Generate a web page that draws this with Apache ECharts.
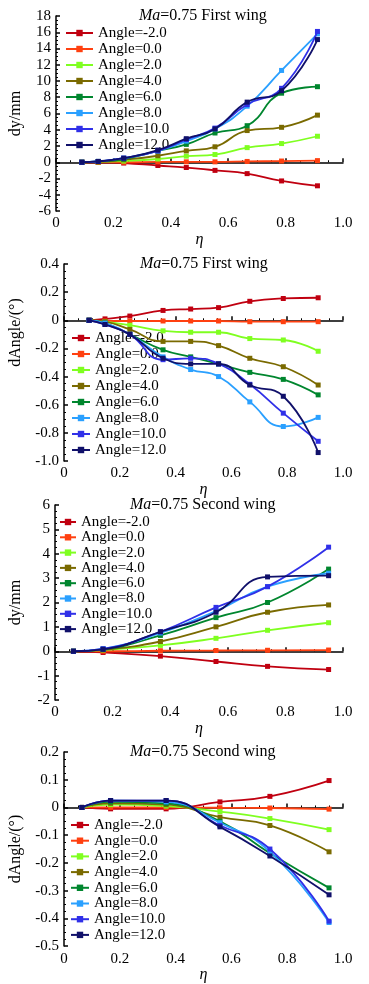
<!DOCTYPE html>
<html>
<head>
<meta charset="utf-8">
<script src="https://cdn.jsdelivr.net/npm/echarts@6/dist/echarts.min.js"></script>
<style>
  html, body { margin: 0; padding: 0; background: #fff; }
  #main { width: 369px; height: 984px; }
</style>
</head>
<body>
<div id="main"></div>
<script>
// 图例名称
var angles = ['Angle=-2.0', 'Angle=0.0', 'Angle=2.0', 'Angle=4.0', 'Angle=6.0', 'Angle=8.0', 'Angle=10.0', 'Angle=12.0'];
var colors = ['#c00010', '#ff4010', '#7fff20', '#7a6a00', '#00862e', '#2aa0ff', '#3030e8', '#10106a'];

// 展向位置
var etaFirst = [0.09, 0.147, 0.236, 0.355, 0.454, 0.554, 0.666, 0.786, 0.911];
var etaSecond = [0.064, 0.167, 0.366, 0.559, 0.738, 0.95];

// 第一机翼 dy/mm
var dyFirst = [
    [0, 0, -0.1, -0.4, -0.65, -1.0, -1.4, -2.3, -2.9],
    [0, 0, 0, 0.05, 0.05, 0.05, 0.1, 0.15, 0.2],
    [0, 0.05, 0.15, 0.4, 0.75, 0.95, 1.8, 2.3, 3.2],
    [0, 0.05, 0.3, 0.8, 1.4, 1.9, 3.9, 4.3, 5.8],
    [0, 0.1, 0.4, 1.4, 2.2, 3.6, 4.5, 8.5, 9.3],
    [0, 0.1, 0.5, 1.4, 2.6, 4.1, 6.9, 11.3, 15.8],
    [0, 0.1, 0.5, 1.4, 2.8, 4.2, 7.1, 9.1, 16.1],
    [0, 0.1, 0.5, 1.5, 2.9, 4.1, 7.4, 8.8, 15.1]
];
// 第一机翼 dAngle
var daFirst = [
    [0, 0.01, 0.03, 0.07, 0.08, 0.09, 0.135, 0.155, 0.16],
    [0, -0.005, -0.005, -0.005, -0.005, -0.005, -0.01, -0.01, -0.01],
    [0, -0.01, -0.035, -0.075, -0.085, -0.085, -0.13, -0.14, -0.22],
    [0, -0.01, -0.065, -0.15, -0.15, -0.18, -0.27, -0.33, -0.46],
    [0, -0.02, -0.1, -0.21, -0.26, -0.31, -0.37, -0.42, -0.53],
    [0, -0.02, -0.1, -0.26, -0.35, -0.4, -0.58, -0.755, -0.69],
    [0, -0.03, -0.1, -0.28, -0.27, -0.31, -0.455, -0.66, -0.86],
    [0, -0.03, -0.1, -0.27, -0.31, -0.31, -0.46, -0.54, -0.94]
];
// 第二机翼 dy/mm
var dySecond = [
    [0, -0.05, -0.2, -0.42, -0.62, -0.75],
    [0, 0, 0.02, 0.03, 0.04, 0.05],
    [0, 0.05, 0.24, 0.53, 0.86, 1.17],
    [0, 0.06, 0.4, 1.0, 1.6, 1.9],
    [0, 0.08, 0.65, 1.38, 2.0, 3.37],
    [0, 0.1, 0.75, 1.65, 2.65, 3.2],
    [0, 0.1, 0.8, 1.8, 2.65, 4.27],
    [0, 0.08, 0.8, 1.6, 3.05, 3.1]
];
// 第二机翼 dAngle
var daSecond = [
    [0, -0.005, -0.005, 0.02, 0.04, 0.097],
    [0, 0, 0, -0.001, -0.002, -0.006],
    [0, 0.01, 0.005, -0.015, -0.04, -0.08],
    [0, 0.015, 0.01, -0.035, -0.065, -0.16],
    [0, 0.02, 0.015, -0.05, -0.165, -0.29],
    [0, 0.025, 0.02, -0.055, -0.16, -0.415],
    [0, 0.025, 0.025, -0.065, -0.15, -0.41],
    [0, 0.025, 0.025, -0.07, -0.175, -0.315]
];

var font = 'Liberation Serif';
var chart = echarts.init(document.getElementById('main'));

// 四个子图布局
var panels = [
    { eta: etaFirst, data: dyFirst, title: 'First wing', yName: 'dy/mm', grid: { left: 52, top: 16, width: 291, height: 195 },
      yMin: -6, yMax: 18, yInt: 2, titleLeft: 139, namePad: 0, xGap: 19,
      legend: { left: 65, top: 25, w: 27, gap: 0 } },
    { eta: etaFirst, data: daFirst, title: 'First wing', yName: 'dAngle/(°)', grid: { left: 60, top: 264, width: 283, height: 197 },
      yMin: -1.0, yMax: 0.4, yInt: 0.2, titleLeft: 140, namePad: 60, xGap: 21,
      legend: { left: 71, top: 330, w: 18, gap: 0 } },
    { eta: etaSecond, data: dySecond, title: 'Second wing', yName: 'dy/mm', grid: { left: 51, top: 505, width: 292, height: 195 },
      yMin: -2, yMax: 6, yInt: 1, titleLeft: 130, namePad: 0, xGap: 19,
      legend: { left: 59, top: 514, w: 16, gap: -0.7 } },
    { eta: etaSecond, data: daSecond, title: 'Second wing', yName: 'dAngle/(°)', grid: { left: 60, top: 752, width: 283, height: 195 },
      yMin: -0.5, yMax: 0.2, yInt: 0.1, titleLeft: 130, namePad: 0, xGap: 19,
      legend: { left: 70, top: 817, w: 18, gap: -0.3 } }
];

function numFmt(v, d) {
    if (Math.abs(v) < 1e-9) return '0';
    return v.toFixed(d);
}

var grids = [], xAxes = [], yAxes = [], titles = [], legends = [], series = [];

panels.forEach(function (p, k) {
    grids.push(p.grid);
    titles.push({
        text: '{i|Ma}=0.75 ' + p.title,
        left: p.titleLeft,
        top: p.grid.top - 8,
        padding: 0,
        textStyle: {
            fontFamily: font, fontSize: 16, fontWeight: 'normal', color: '#000',
            rich: { i: { fontFamily: font, fontSize: 16, fontStyle: 'italic', color: '#000' } }
        }
    });
    legends.push({
        orient: 'vertical',
        left: p.legend.left,
        top: p.legend.top,
        padding: 0,
        data: angles,
        itemWidth: p.legend.w,
        itemHeight: 8,
        itemGap: p.legend.gap,
        textStyle: { fontFamily: font, fontSize: 15, color: '#000', lineHeight: 16 },
        selectedMode: false
    });
    var yDec = p.yInt < 1 ? 1 : 0;
    xAxes.push({
        gridIndex: k, type: 'value', min: 0, max: 1, interval: 0.2,
        name: 'η', nameLocation: 'middle', nameGap: p.xGap,
        nameTextStyle: { fontFamily: font, fontSize: 16, fontStyle: 'italic', color: '#000' },
        axisLine: { lineStyle: { color: '#000', width: 1.5 } },
        axisTick: { inside: true, length: 4, lineStyle: { color: '#000', width: 1.5 } },
        minorTick: { show: true, splitNumber: 4, length: 2, lineStyle: { color: '#000' } },
        axisLabel: { fontFamily: font, fontSize: 15, color: '#000', margin: 5,
            formatter: function (v) { return numFmt(v, 1); } },
        splitLine: { show: false }
    });
    yAxes.push({
        gridIndex: k, type: 'value', min: p.yMin, max: p.yMax, interval: p.yInt,
        name: p.yName, nameLocation: 'middle', nameGap: p.grid.left - 20,
        nameTextStyle: { fontFamily: font, fontSize: 16, color: '#000', padding: [0, 0, 0, p.namePad] },
        axisLine: { show: true, lineStyle: { color: '#000', width: 1.5 } },
        axisTick: { show: true, inside: true, length: 4, lineStyle: { color: '#000', width: 1.5 } },
        minorTick: { show: true, splitNumber: 4, length: 2, lineStyle: { color: '#000' } },
        axisLabel: { fontFamily: font, fontSize: 15, color: '#000', margin: 5,
            formatter: function (v) { return numFmt(v, yDec); } },
        splitLine: { show: false }
    });
    p.data.forEach(function (vals, i) {
        series.push({
            name: angles[i],
            type: 'line',
            xAxisIndex: k,
            yAxisIndex: k,
            data: vals.map(function (v, j) { return [p.eta[j], v]; }),
            smooth: 0.5,
            symbol: 'rect',
            symbolSize: 5,
            lineStyle: { width: 1.8, color: colors[i] },
            itemStyle: { color: colors[i] },
            z: 2 + i
        });
    });
});

var option = {
    animation: false,
    backgroundColor: '#fff',
    title: titles,
    legend: legends,
    grid: grids,
    xAxis: xAxes,
    yAxis: yAxes,
    series: series
};

chart.setOption(option);
</script>
</body>
</html>
